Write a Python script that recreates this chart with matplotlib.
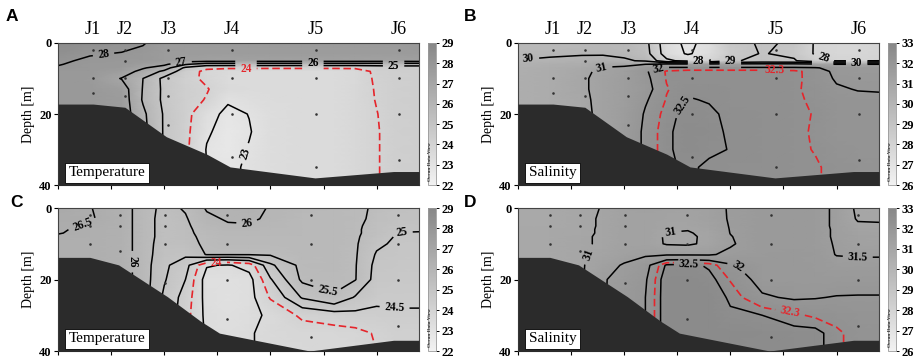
import numpy as np
import matplotlib
matplotlib.use("Agg")
import matplotlib.pyplot as plt
import matplotlib.transforms as mtransforms
from matplotlib.colors import LinearSegmentedColormap, Normalize
from matplotlib.cm import ScalarMappable

plt.rcParams['font.family'] = 'Liberation Serif'
plt.rcParams['font.weight'] = 'bold'

# section grid (distance along transect, km / depth, m)
dist_km = [0, 3, 6, 8, 10, 12, 14, 16, 18, 20, 23, 26, 28, 30, 32, 34]
depth_m = [0, 3, 5, 6, 7, 8, 10, 13, 16, 20, 25, 30, 35, 40]

# panel A: temperature, first survey
temp_a = [
    [28.6, 28.4, 28.2, 28.05, 27.7, 27.7, 27.7, 27.7, 27.7, 27.7, 27.7, 27.7, 27.7, 27.7, 27.7, 27.8],
    [28.4, 28.05, 27.97, 27.85, 27.65, 27.6, 27.6, 27.6, 27.6, 27.6, 27.6, 27.6, 27.6, 27.6, 27.6, 27.7],
    [28.1, 27.9, 27.85, 27.8, 27.6, 27.4, 27.3, 27.3, 27.3, 27.3, 27.3, 27.3, 27.3, 27.3, 27.3, 27.35],
    [28.03, 27.85, 27.8, 27.5, 27.2, 26.1, 25.5, 25.5, 25.5, 25.5, 25.5, 25.5, 25.5, 25.5, 25.5, 25.5],
    [27.95, 27.85, 27.7, 27.1, 26.5, 24.8, 24.15, 24.1, 24.1, 24.1, 24.1, 24.1, 24.1, 24.3, 24.4, 24.4],
    [27.85, 27.8, 27.5, 26.7, 25.8, 24.4, 23.8, 23.6, 23.55, 23.5, 23.5, 23.5, 23.65, 24.15, 24.3, 24.35],
    [27.8, 27.75, 26.95, 26.0, 24.75, 24.25, 23.85, 23.55, 23.5, 23.5, 23.5, 23.5, 23.65, 24.1, 24.3, 24.35],
    [27.8, 27.8, 27.5, 25.95, 24.8, 24.3, 24.05, 23.6, 23.5, 23.5, 23.5, 23.5, 23.7, 24.05, 24.3, 24.35],
    [27.8, 27.8, 27.6, 25.9, 24.8, 24.3, 23.95, 23.1, 23.3, 23.45, 23.5, 23.5, 23.7, 24.03, 24.3, 24.35],
    [27.8, 27.8, 27.6, 26.2, 24.9, 24.3, 23.3, 22.8, 23.02, 23.4, 23.5, 23.5, 23.7, 23.98, 24.3, 24.35],
    [27.8, 27.8, 27.6, 26.3, 24.9, 24.25, 23.1, 22.7, 22.95, 23.4, 23.5, 23.5, 23.7, 23.95, 24.3, 24.35],
    [27.8, 27.8, 27.6, 26.3, 24.9, 24.2, 22.95, 22.7, 23.05, 23.4, 23.5, 23.5, 23.7, 23.95, 24.3, 24.35],
    [27.8, 27.8, 27.6, 26.3, 24.9, 24.2, 23.0, 22.85, 23.1, 23.4, 23.5, 23.5, 23.7, 23.95, 24.3, 24.35],
    [27.8, 27.8, 27.6, 26.3, 24.9, 24.2, 23.0, 22.85, 23.1, 23.4, 23.5, 23.5, 23.7, 23.95, 24.3, 24.35],
]

# panel B: salinity, first survey
sal_b = [
    [29.7, 29.7, 29.75, 29.8, 29.75, 29.3, 27.4, 26.8, 27.3, 28.7, 29.1, 28.9, 27.9, 27.8, 27.8, 27.9],
    [29.85, 29.85, 29.9, 29.9, 29.85, 29.4, 27.5, 26.9, 27.4, 28.6, 29.05, 28.8, 27.9, 27.8, 27.8, 27.9],
    [30.02, 30.15, 30.3, 30.35, 30.1, 29.9, 28.2, 27.7, 28.0, 28.9, 29.2, 29.1, 28.3, 27.95, 27.95, 28.0],
    [30.2, 30.35, 30.5, 30.75, 30.8, 31.0, 31.3, 31.3, 31.3, 31.3, 31.3, 31.3, 31.2, 31.0, 31.0, 31.0],
    [30.3, 30.5, 30.7, 31.05, 31.15, 31.7, 32.1, 32.1, 32.1, 32.1, 32.1, 32.1, 32.05, 31.8, 31.75, 31.75],
    [30.4, 30.55, 30.85, 31.15, 31.4, 31.95, 32.33, 32.4, 32.4, 32.4, 32.4, 32.36, 32.2, 31.9, 31.85, 31.85],
    [30.45, 30.6, 30.9, 31.2, 31.5, 31.9, 32.32, 32.42, 32.42, 32.42, 32.4, 32.35, 32.22, 31.95, 31.9, 31.9],
    [30.45, 30.6, 30.9, 31.2, 31.5, 31.85, 32.28, 32.45, 32.45, 32.42, 32.4, 32.33, 32.24, 32.05, 31.98, 31.96],
    [30.45, 30.6, 30.85, 31.2, 31.5, 31.95, 32.32, 32.52, 32.48, 32.42, 32.4, 32.34, 32.26, 32.1, 32.1, 32.1],
    [30.4, 30.6, 30.8, 31.2, 31.55, 32.05, 32.4, 32.6, 32.55, 32.44, 32.4, 32.34, 32.29, 32.15, 32.1, 32.1],
    [30.4, 30.6, 30.8, 31.2, 31.6, 32.1, 32.45, 32.62, 32.58, 32.46, 32.4, 32.34, 32.28, 32.15, 32.1, 32.1],
    [30.4, 30.6, 30.8, 31.2, 31.6, 32.1, 32.45, 32.62, 32.55, 32.49, 32.4, 32.34, 32.29, 32.2, 32.15, 32.15],
    [30.4, 30.6, 30.8, 31.2, 31.6, 32.1, 32.45, 32.55, 32.45, 32.42, 32.4, 32.34, 32.32, 32.25, 32.2, 32.2],
    [30.4, 30.6, 30.8, 31.2, 31.6, 32.1, 32.45, 32.55, 32.45, 32.42, 32.4, 32.34, 32.32, 32.25, 32.2, 32.2],
]

# panel C: temperature, second survey
temp_c = [
    [26.7, 26.52, 26.25, 25.75, 25.35, 25.55, 26.05, 26.15, 26.2, 25.95, 25.8, 25.7, 25.65, 25.4, 25.25, 25.2],
    [26.65, 26.55, 26.25, 25.75, 25.3, 25.45, 25.9, 26.05, 26.1, 25.9, 25.75, 25.7, 25.65, 25.35, 25.2, 25.15],
    [26.6, 26.45, 26.25, 25.75, 25.3, 25.4, 25.8, 25.95, 25.95, 25.85, 25.75, 25.7, 25.6, 25.3, 25.1, 25.1],
    [26.55, 26.4, 26.25, 25.75, 25.3, 25.4, 25.7, 25.85, 25.85, 25.8, 25.75, 25.7, 25.6, 25.25, 25.05, 25.05],
    [26.52, 26.4, 26.25, 25.75, 25.3, 25.4, 25.65, 25.8, 25.8, 25.8, 25.75, 25.7, 25.6, 25.25, 24.99, 24.97],
    [26.45, 26.4, 26.25, 25.75, 25.3, 25.4, 25.6, 25.75, 25.75, 25.75, 25.75, 25.7, 25.58, 25.2, 24.95, 24.95],
    [26.4, 26.4, 26.25, 25.75, 25.25, 25.35, 25.58, 25.7, 25.7, 25.7, 25.72, 25.7, 25.56, 25.1, 24.9, 24.9],
    [26.4, 26.4, 26.25, 25.75, 25.2, 25.1, 25.53, 25.53, 25.53, 25.55, 25.7, 25.7, 25.55, 24.95, 24.85, 24.85],
    [26.4, 26.4, 26.25, 25.75, 25.1, 24.7, 23.55, 23.45, 23.7, 24.9, 25.65, 25.7, 25.53, 24.85, 24.8, 24.8],
    [26.4, 26.4, 26.25, 25.75, 25.05, 24.5, 23.25, 23.2, 23.3, 24.45, 25.6, 25.65, 25.52, 24.8, 24.75, 24.75],
    [26.4, 26.4, 26.25, 25.75, 24.9, 24.3, 23.3, 23.2, 23.3, 24.05, 25.05, 25.45, 24.95, 24.65, 24.65, 24.65],
    [26.4, 26.4, 26.25, 25.75, 24.9, 24.2, 23.35, 23.25, 23.35, 23.6, 24.1, 24.25, 24.35, 24.35, 24.4, 24.4],
    [26.4, 26.4, 26.25, 25.75, 24.9, 24.2, 23.4, 23.3, 23.45, 23.65, 23.75, 23.8, 23.85, 24.05, 24.2, 24.2],
    [26.4, 26.4, 26.25, 25.75, 24.9, 24.2, 23.4, 23.3, 23.45, 23.65, 23.7, 23.75, 23.8, 24.0, 24.2, 24.2],
]

# panel D: salinity, second survey
sal_d = [
    [30.8, 30.8, 30.9, 31.02, 31.2, 31.25, 31.2, 31.2, 31.3, 31.55, 31.75, 31.75, 31.7, 31.4, 30.9, 30.9],
    [30.8, 30.8, 30.9, 31.05, 31.2, 31.2, 31.15, 31.15, 31.25, 31.55, 31.75, 31.75, 31.7, 31.4, 30.95, 30.95],
    [30.8, 30.8, 30.9, 31.05, 31.2, 31.2, 31.1, 31.1, 31.2, 31.53, 31.75, 31.75, 31.7, 31.4, 31.08, 31.05],
    [30.85, 30.85, 30.92, 31.05, 31.2, 31.2, 31.05, 31.02, 31.15, 31.52, 31.75, 31.75, 31.7, 31.42, 31.15, 31.1],
    [30.85, 30.85, 30.92, 31.05, 31.2, 31.2, 30.99, 30.96, 31.12, 31.51, 31.75, 31.75, 31.7, 31.42, 31.2, 31.15],
    [30.85, 30.85, 30.95, 31.05, 31.2, 31.2, 30.95, 30.92, 31.1, 31.48, 31.75, 31.75, 31.7, 31.42, 31.25, 31.2],
    [30.85, 30.85, 30.95, 31.05, 31.2, 31.2, 30.96, 30.93, 31.1, 31.45, 31.75, 31.75, 31.7, 31.45, 31.3, 31.25],
    [30.85, 30.85, 30.95, 31.1, 31.3, 31.42, 31.45, 31.45, 31.45, 31.6, 31.75, 31.78, 31.72, 31.48, 31.45, 31.45],
    [30.85, 30.85, 30.95, 31.3, 31.55, 31.85, 32.55, 32.6, 32.45, 32.05, 31.8, 31.8, 31.75, 31.65, 31.65, 31.65],
    [30.85, 30.85, 30.95, 31.45, 31.7, 31.95, 32.7, 32.75, 32.6, 32.28, 31.85, 31.85, 31.8, 31.8, 31.8, 31.8],
    [30.85, 30.85, 30.95, 31.45, 31.75, 32.0, 32.7, 32.75, 32.7, 32.45, 32.05, 31.95, 31.98, 32.02, 32.03, 32.03],
    [30.85, 30.85, 30.95, 31.45, 31.75, 32.0, 32.7, 32.75, 32.7, 32.55, 32.5, 32.35, 32.25, 32.2, 32.15, 32.15],
    [30.85, 30.85, 30.95, 31.45, 31.75, 32.0, 32.7, 32.75, 32.75, 32.7, 32.65, 32.6, 32.6, 32.35, 32.2, 32.2],
    [30.85, 30.85, 30.95, 31.45, 31.75, 32.0, 32.7, 32.75, 32.75, 32.7, 32.65, 32.6, 32.6, 32.35, 32.2, 32.2],
]

# bottom profile
bottom_x_top = [0, 3.3, 6.3, 10.2, 14.0, 16.2, 24.2, 31.6, 34]
bottom_z_top = [17.2, 17.2, 18.1, 26.4, 31.3, 34.9, 38.0, 36.2, 36.2]
bottom_x_low = [0, 3.0, 5.7, 10.3, 13.4, 15.2, 23.7, 31.6, 34]
bottom_z_low = [13.8, 13.8, 15.9, 24.8, 31.6, 35.0, 40.0, 37.0, 37.0]

# stations and sampling depths
stations = ['J1', 'J2', 'J3', 'J4', 'J5', 'J6']
station_x_top = [3.3, 6.3, 10.4, 16.4, 24.3, 32.1]
station_x_low = [3.0, 5.8, 10.1, 15.9, 23.8, 32.0]
samples_top = [[2, 10, 14], [2, 5, 10, 15], [2, 10, 15, 23], [2, 10, 20, 32], [2, 10, 20, 35], [2, 10, 20, 33]]
samples_low = [[2, 5, 10], [2, 5, 12], [2, 5, 10, 21], [2, 10, 20, 31], [2, 10, 20, 36], [2, 10, 20, 33]]

levels_a = [23, 25, 26, 27, 28]
levels_b = [27, 28, 29, 30, 31, 32, 32.5]
levels_c = [23.5, 24.5, 25, 25.5, 26, 26.5]
levels_d = [31, 31.5, 32, 32.5]

# contour labels: level, x, depth, other levels cut at the same spot
labels_a = [(28, 4.3, 3.6, []), (27, 11.6, 5.7, []), (24, 17.7, 7.1, [27, 26, 25]),
            (26, 24.0, 5.8, [27, 25, 24]), (25, 31.6, 6.3, [27, 26]), (23, 18.6, 32.0, [])]
labels_b = [(30, 1.0, 5.0, []), (31, 7.9, 7.2, []), (32, 13.2, 6.9, []),
            (28, 17.0, 5.3, [29, 30, 31, 32]), (29, 20.0, 5.4, [28, 30, 31, 32]),
            (32.3, 24.2, 7.7, []), (28, 28.7, 5.2, [29, 30, 31]), (30, 31.9, 5.6, [28, 29, 31]),
            (32.5, 15.3, 17.0, [])]
labels_c = [(26.5, 2.6, 7.2, []), (26, 7.2, 15.0, []), (26, 17.8, 4.2, []), (25.5, 25.3, 23.9, []),
            (25, 32.4, 7.0, []), (24.5, 31.7, 27.6, []), (24, 14.9, 15.2, [])]
labels_d = [(31, 8.0, 14.5, []), (31, 14.4, 7.1, []), (32.5, 16.1, 15.5, [32, 32.3]),
            (32, 21.0, 15.3, []), (32.3, 25.6, 29.6, []), (31.5, 32.0, 14.0, [])]

grey = LinearSegmentedColormap.from_list('odv_grey', ['#f2f2f2', '#878787'])
RED = '#e5252b'

fig = plt.figure(figsize=(9.14, 3.61), dpi=100)


def draw_section(rect, crect, field, vmin, vmax, black, red, labels,
                 bx, bz, sx, sz, boxtext, letter, lxy, top=False):
    ax = fig.add_axes(rect)
    X, Z = np.meshgrid(dist_km, depth_m)
    F = np.array(field)
    norm = Normalize(vmin, vmax)
    ax.pcolormesh(X, Z, F, shading='gouraud', cmap=grey, norm=norm)
    ax.set_xlim(0, 34)
    ax.set_ylim(40, 0)

    # one contour set per level so labels can be placed level by level
    sets = {}
    for lv in black:
        sets[lv] = ax.contour(X, Z, F, levels=[lv], colors='k', linewidths=1.1)
    sets[red] = ax.contour(X, Z, F, levels=[red], colors=RED, linewidths=1.2,
                           linestyles=[(0, (4.5, 2.2))])
    for lev, x, z, cuts in labels:
        for c in cuts:
            tt = sets[c].clabel(manual=[(x, z)], inline=True, fmt='%g', fontsize=8.3)
            tt[-1].set_visible(False)
        sets[lev].clabel(manual=[(x, z)], inline=True, fmt='%g', fontsize=8.3)

    ax.fill_between(bx, bz, 41, color='#2b2b2b', lw=0, zorder=3)
    for x, zs in zip(sx, sz):
        ax.scatter([x] * len(zs), zs, s=3.5, color='#333333', lw=0, zorder=4)

    ax.set_yticks([0, 20, 40])
    ax.set_xticks(np.arange(0, 31, 5))
    ax.set_xticklabels([])
    ax.tick_params(axis='y', labelsize=9, length=3, pad=1.5)
    ax.tick_params(axis='x', length=3)
    for sp in ax.spines.values():
        sp.set_color('#444444')
        sp.set_linewidth(0.8)
    ax.set_ylabel('Depth [m]', fontsize=10, labelpad=3)

    ax.text(0.03, 0.06, boxtext, transform=ax.transAxes, fontsize=11,
            fontweight='normal', zorder=6,
            bbox=dict(boxstyle='square,pad=0.25', fc='white', ec='black', lw=0.6))

    if top:
        trans = mtransforms.blended_transform_factory(ax.transData, ax.transAxes)
        for name, x in zip(stations, sx):
            ax.text(x, 1.092, name, transform=trans, ha='center', va='center',
                    fontsize=13, fontweight='normal')

    cax = fig.add_axes(crect)
    cb = fig.colorbar(ScalarMappable(norm=norm, cmap=grey), cax=cax,
                      ticks=np.arange(vmin, vmax + 1))
    cb.outline.set_edgecolor('#9a9a9a')
    cb.outline.set_linewidth(0.6)
    cax.tick_params(labelsize=9, length=2.5, width=0.7, pad=1.5)
    cax.text(0.3, 0.03, 'Ocean Data View', transform=cax.transAxes, rotation=90,
             fontsize=3.8, ha='center', va='bottom', color='#333333')

    fig.text(lxy[0], lxy[1], letter, family='Liberation Sans', fontweight='bold',
             fontsize=12.5, ha='left', va='center')
    return ax


draw_section([0.0635, 0.4875, 0.395, 0.3934], [0.4683, 0.4875, 0.00875, 0.3934],
             temp_a, 22, 29, levels_a, 24, labels_a, bottom_x_top, bottom_z_top,
             station_x_top, samples_top, 'Temperature', 'A', (0.006, 0.955), top=True)
draw_section([0.5667, 0.4875, 0.395, 0.3934], [0.9716, 0.4875, 0.00875, 0.3934],
             sal_b, 26, 33, levels_b, 32.3, labels_b, bottom_x_top, bottom_z_top,
             station_x_top, samples_top, 'Salinity', 'B', (0.508, 0.955), top=True)
draw_section([0.0635, 0.0277, 0.395, 0.396], [0.4683, 0.0277, 0.00875, 0.396],
             temp_c, 22, 29, levels_c, 24, labels_c, bottom_x_low, bottom_z_low,
             station_x_low, samples_low, 'Temperature', 'C', (0.011, 0.44))
draw_section([0.5667, 0.0277, 0.395, 0.396], [0.9716, 0.0277, 0.00875, 0.396],
             sal_d, 26, 33, levels_d, 32.3, labels_d, bottom_x_low, bottom_z_low,
             station_x_low, samples_low, 'Salinity', 'D', (0.508, 0.44))

fig.savefig('out.png', dpi=100)
